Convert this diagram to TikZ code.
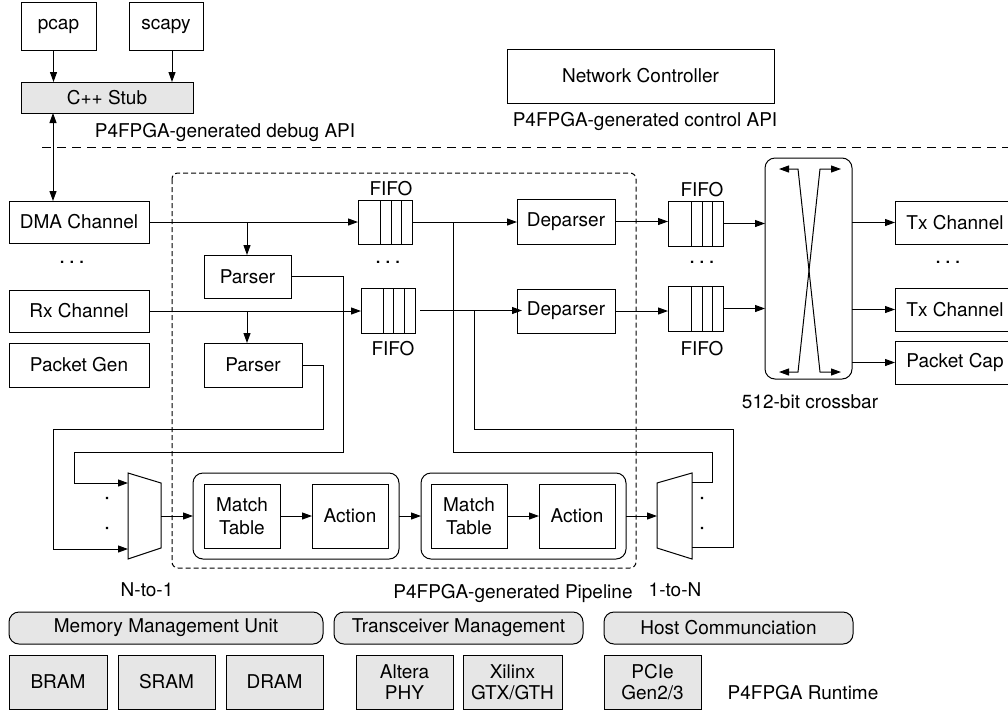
\documentclass[tikz,border=0pt]{standalone}
\usepackage{fontspec}
\setmainfont{TeX Gyre Heros}
\usetikzlibrary{arrows.meta}
\definecolor{boxgray}{RGB}{230,230,230}
\tikzset{
  every node/.style={font=\fontsize{19}{22}\selectfont},
  bx/.style={draw, line width=1pt, inner sep=0pt, outer sep=0pt, align=center},
  gbx/.style={bx, fill=boxgray},
  rbx/.style={bx, rounded corners=10pt},
  wire/.style={line width=1pt},
  arr/.style={wire, -{Triangle[length=10pt,width=7pt]}},
  darr/.style={wire, {Triangle[length=10pt,width=7pt]}-{Triangle[length=10pt,width=7pt]}},
  lbl/.style={inner sep=0pt},
  dots/.style={inner sep=0pt, font=\fontsize{22}{24}\selectfont},
}
\newcommand\mkbox[7]{\node[#6, minimum width={#4-#2}, minimum height={#5-#3}] (#1) at ({(#2+#4)/2},{(#3+#5)/2}) {#7};}
\begin{document}
\begin{tikzpicture}[x=1pt,y=-1pt]
\clip (0,0) rectangle (1008,710);
\fill[white] (0,0) rectangle (1008,710);
% top
\mkbox{pcap}{21}{2}{96}{50}{bx}{pcap}
\mkbox{scapy}{129}{2}{203}{50}{bx}{scapy}
\mkbox{stub}{21}{82}{193}{113}{gbx}{C++ Stub}
\mkbox{netctl}{507}{49}{774}{103}{bx}{Network Controller}
\node[lbl] (dbgapi) at (225,132) {P4FPGA-generated debug API};
\node[lbl] (ctlapi) at (645,121) {P4FPGA-generated control API};
\coordinate (sepL) at (42,147.5);
\coordinate (sepR) at (1010,147.5);
\draw[wire, dash pattern=on 9pt off 6pt] (sepL) -- (sepR);
% pipeline dashed region
\draw[wire, dash pattern=on 5pt off 3pt, rounded corners=6pt] (172,173) rectangle (636,568);
% left channels
\mkbox{dma}{9}{201}{149}{243}{bx}{DMA Channel}
\mkbox{rx}{9}{290}{149}{332}{bx}{Rx Channel}
\mkbox{pgen}{9}{343}{149}{387}{bx}{Packet Gen}
\node[dots] (dotsA) at (72,262) {.\,.\,.};
% parsers
\mkbox{parser1}{204}{255}{291}{298}{bx}{Parser}
\mkbox{parser2}{204}{343}{302}{387}{bx}{Parser}
% fifos
\mkbox{fifo1}{358}{200}{412}{244}{bx}{}
\mkbox{fifo2}{361}{288}{415}{333}{bx}{}
\mkbox{fifo3}{668}{201}{723}{246}{bx}{}
\mkbox{fifo4}{668}{286}{723}{331}{bx}{}
\foreach \x in {380,391,401} \draw[wire] (\x,200) -- (\x,244);
\foreach \x in {383,393,404} \draw[wire] (\x,288) -- (\x,333);
\foreach \x in {691,702,712} \draw[wire] (\x,201) -- (\x,246);
\foreach \x in {691,702,712} \draw[wire] (\x,286) -- (\x,331);
\node[lbl] (f1l) at (391,189) {FIFO};
\node[lbl] (f2l) at (393,349) {FIFO};
\node[lbl] (f3l) at (702,190) {FIFO};
\node[lbl] (f4l) at (702,349) {FIFO};
\node[dots] (dotsB) at (388,262) {.\,.\,.};
\node[dots] (dotsC) at (702,262) {.\,.\,.};
\node[dots] (dotsD) at (948,262) {.\,.\,.};
% deparsers
\mkbox{dep1}{517}{199}{615}{244}{bx}{Deparser}
\mkbox{dep2}{517}{289}{615}{333}{bx}{Deparser}
% crossbar
\mkbox{xbar}{765}{158}{852}{379}{rbx}{}
\node[lbl] (xbl) at (810,402) {512-bit crossbar};
\coordinate (xtl) at (798,169); \coordinate (xtr) at (820,169);
\coordinate (xbl0) at (798,372); \coordinate (xbr) at (820,372);
\coordinate (xtla) at (779,169); \coordinate (xtra) at (841,169);
\coordinate (xbla) at (779,372); \coordinate (xbra) at (841,372);
\draw[darr] (xtla) -- (xtl) -- (xbr) -- (xbra);
\draw[darr] (xtra) -- (xtr) -- (xbl0) -- (xbla);
% outputs
\mkbox{tx1}{895}{201}{1015}{244}{bx}{Tx Channel}
\mkbox{tx2}{895}{288}{1015}{331}{bx}{Tx Channel}
\mkbox{pcapout}{895}{341}{1015}{384}{bx}{Packet Cap}
% pipeline stages
\mkbox{stage1}{193}{473}{399}{559}{rbx}{}
\mkbox{mt1}{204}{484}{280}{548}{bx}{Match\\[1pt]Table}
\mkbox{act1}{312}{484}{388}{548}{bx}{Action}
\mkbox{stage2}{421}{473}{626}{559}{rbx}{}
\mkbox{mt2}{431}{484}{507}{548}{bx}{Match\\[1pt]Table}
\mkbox{act2}{539}{484}{615}{548}{bx}{Action}
% muxes
\draw[wire] (128,473) -- (161,483) -- (161,548) -- (128,559) -- cycle;
\draw[wire] (657,483) -- (692,473) -- (692,559) -- (657,548) -- cycle;
\coordinate (m1in1) at (128,483); \coordinate (m1in2) at (128,549);
\coordinate (m1out) at (161,516);
\coordinate (m2in) at (657,516);
\coordinate (m2o1) at (692,482); \coordinate (m2o2) at (692,547);
\fill (105.8,496.8) rectangle (108.2,499.2) (105.8,526.8) rectangle (108.2,529.2);
\fill (700.8,496.8) rectangle (703.2,499.2) (700.8,526.8) rectangle (703.2,529.2);
\node[lbl] (n1l) at (147,590) {N-to-1};
\node[lbl] (1nl) at (675,590) {1-to-N};
\node[lbl] (ppl) at (513,593) {P4FPGA-generated Pipeline};
% runtime
\mkbox{mmu}{9}{612}{323}{644}{gbx, rounded corners=10pt}{Memory Management Unit}
\mkbox{tm}{334}{612}{583}{644}{gbx, rounded corners=10pt}{Transceiver Management}
\mkbox{hc}{604}{612}{853}{644}{gbx, rounded corners=10pt}{Host Communciation}
\mkbox{bram}{9}{655}{107}{709}{gbx}{BRAM}
\mkbox{sram}{118}{655}{215}{709}{gbx}{SRAM}
\mkbox{dram}{226}{655}{323}{709}{gbx}{DRAM}
\mkbox{altera}{356}{655}{453}{709}{gbx}{Altera\\[-1pt]PHY}
\mkbox{xilinx}{463}{655}{562}{709}{gbx}{Xilinx\\[-1pt]GTX/GTH}
\mkbox{pcie}{604}{655}{701}{709}{gbx}{PCIe\\[-1pt]Gen2/3}
\node[lbl] (rtl) at (803,693) {P4FPGA Runtime};
% connectors
\coordinate (xa) at (53,0);
\coordinate (xb) at (247,0);
\draw[arr] ([xshift=-5pt]pcap.south) -- ([xshift=-5pt]pcap.south |- stub.north);
\draw[arr] ([xshift=6pt]scapy.south) -- ([xshift=6pt]scapy.south |- stub.north);
\draw[darr] (xa |- stub.south) -- (xa |- dma.north);
\draw[arr] (dma.east) -- (dma.east -| fifo1.west);
\draw[arr] (xb |- dma.east) -- (xb |- parser1.north);
\draw[arr] (rx.east) -- (rx.east -| fifo2.west);
\draw[arr] (xb |- rx.east) -- (xb |- parser2.north);
\draw[arr] (parser1.east) -| (343,452) -| (74,483) -- (m1in1);
\draw[arr] (parser2.east) -| (323,429) -| (53,549) -- (m1in2);
\draw[arr] (m1out) -- (stage1.west);
\draw[arr] (mt1.east) -- (act1.west);
\draw[arr] (stage1.east) -- (stage2.west);
\draw[arr] (mt2.east) -- (act2.west);
\draw[arr] (stage2.east) -- (m2in);
\draw[wire] (m2o1) -- (712,482) -- (712,452) -| (453,222);
\draw[wire] (m2o2) -- (733,547) -- (733,429) -| (474,311);
\draw[arr] (fifo1.east) -- (fifo1.east -| dep1.west);
\draw[arr] ([xshift=5pt]fifo2.east) -- ([xshift=5pt]fifo2.east -| dep2.west);
\draw[arr] (dep1.east) -- (dep1.east -| fifo3.west);
\draw[arr] (dep2.east) -- (dep2.east -| fifo4.west);
\draw[arr] (fifo3.east) -- (fifo3.east -| xbar.west);
\draw[arr] (fifo4.east) -- (fifo4.east -| xbar.west);
\draw[arr] (xbar.east |- tx1.west) -- (tx1.west);
\draw[arr] (xbar.east |- tx2.west) -- (tx2.west);
\draw[arr] (xbar.east |- pcapout.west) -- (pcapout.west);
\end{tikzpicture}
\end{document}
